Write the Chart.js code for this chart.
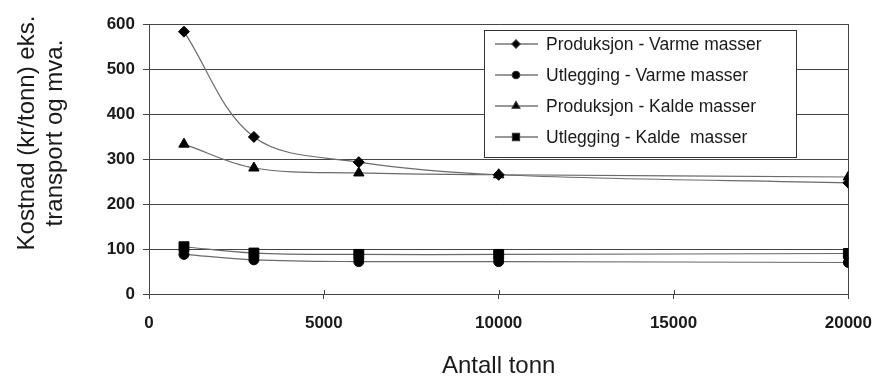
<!DOCTYPE html>
<html>
<head>
<meta charset="utf-8">
<script src="https://cdn.jsdelivr.net/npm/chart.js@4/dist/chart.umd.min.js"></script>
<style>
    html, body { margin: 0; padding: 0; background: #fff; }
    #wrap { width: 886px; height: 378px; }
</style>
</head>
<body>
<div id="wrap"><canvas id="myChart" width="886" height="378"></canvas></div>
<script>
(function(){
    'use strict';

    // tonnage on the x axis
    const tonn = [1000, 3000, 6000, 10000, 20000];
    // cost per tonne for each series
    const prodVarme = [583, 349, 293, 265, 247];
    const utlVarme = [88, 76, 72, 72, 70];
    const prodKalde = [333, 280, 269, 265, 260];
    const utlKalde = [105, 91, 88, 88, 90];

    const seriesNames = ['Produksjon - Varme masser', 'Utlegging - Varme masser', 'Produksjon - Kalde masser', 'Utlegging - Kalde  masser'];
    const seriesValues = [prodVarme, utlVarme, prodKalde, utlKalde];
    const markers = ['rectRot', 'circle', 'triangle', 'rect'];
    const markerSize = [5.5, 5, 6, 7];

    const yTitle = ['Kostnad (kr/tonn) eks.', 'transport og mva.'];
    const xTitle = 'Antall tonn';

    const FONT = "'Liberation Sans', Arial, sans-serif";
    const INK = '#1a1a1a';
    const GRID = '#444';

    const toPoints = values => values.map((v, i) => ({x: tonn[i], y: v}));

    const datasets = seriesValues.map((values, i) => ({
        label: seriesNames[i],
        data: toPoints(values),
        borderColor: '#6a6a6a',
        borderWidth: 1.2,
        backgroundColor: '#000',
        pointStyle: markers[i],
        pointRadius: markerSize[i],
        pointBorderColor: '#000',
        pointBackgroundColor: '#000',
        pointBorderWidth: 1,
        tension: 0.35,
        fill: false
    }));

    // right edge of the plot frame, x tick marks above the axis, rotated y title
    const framePlugin = {
        id: 'frame',
        beforeDatasetsDraw(chart){
            const {ctx, chartArea} = chart;
            const xs = chart.scales.x;
            ctx.save();
            ctx.strokeStyle = GRID;
            ctx.lineWidth = 1;
            ctx.beginPath();
            ctx.moveTo(Math.round(chartArea.right) + 0.5, chartArea.top);
            ctx.lineTo(Math.round(chartArea.right) + 0.5, chartArea.bottom);
            xs.ticks.forEach(t => {
                const px = Math.round(xs.getPixelForValue(t.value)) + 0.5;
                ctx.moveTo(px, chartArea.bottom - 4);
                ctx.lineTo(px, chartArea.bottom);
            });
            ctx.stroke();
            ctx.restore();
        },
        afterDraw(chart){
            const {ctx} = chart;
            ctx.save();
            ctx.translate(0, 133);
            ctx.rotate(-Math.PI / 2);
            ctx.fillStyle = INK;
            ctx.font = `24px ${FONT}`;
            ctx.textAlign = 'center';
            ctx.textBaseline = 'middle';
            yTitle.forEach((line, i) => ctx.fillText(line, 0, 27 + i * 28));
            ctx.restore();
        }
    };

    // boxed legend sitting inside the plot area
    const legendBox = {
        id: 'legendBox',
        afterDatasetsDraw(chart){
            const {ctx} = chart;
            const left = 484, top = 30, w = 312, h = 127;
            ctx.save();
            ctx.fillStyle = '#fff';
            ctx.fillRect(left, top, w, h);
            ctx.strokeStyle = '#333';
            ctx.lineWidth = 1;
            ctx.strokeRect(left + 0.5, top + 0.5, w, h);
            chart.data.datasets.forEach((ds, i) => {
                const y = 44 + i * 31;
                ctx.strokeStyle = '#333';
                ctx.lineWidth = 1.2;
                ctx.beginPath();
                ctx.moveTo(495, y);
                ctx.lineTo(538, y);
                ctx.stroke();
                ctx.fillStyle = '#000';
                Chart.helpers.drawPoint(ctx, {
                    pointStyle: ds.pointStyle,
                    radius: ds.pointStyle === 'rect' ? 5 : ds.pointRadius * 0.75,
                    rotation: 0,
                    borderWidth: 1
                }, 516, y);
                ctx.fillStyle = INK;
                ctx.font = `17.5px ${FONT}`;
                ctx.textAlign = 'left';
                ctx.textBaseline = 'middle';
                ctx.fillText(ds.label, 546, y + 1);
            });
            ctx.restore();
        }
    };

    const ctx = document.getElementById('myChart');
    new Chart(ctx, {
        type: 'line',
        data: { datasets: datasets },
        plugins: [framePlugin, legendBox],
        options: {
            responsive: false,
            animation: false,
            layout: { padding: { top: 24, right: 31, left: 0, bottom: 0 } },
            plugins: {
                legend: { display: false },
                tooltip: { enabled: false }
            },
            scales: {
                x: {
                    type: 'linear',
                    min: 0,
                    max: 20000,
                    afterFit: scale => { scale.height = 84; },
                    border: { color: GRID, width: 1 },
                    grid: { drawOnChartArea: false, drawTicks: true, tickLength: 5, color: GRID },
                    ticks: {
                        stepSize: 5000,
                        padding: 14,
                        color: INK,
                        font: { family: FONT, size: 17, weight: 'bold' },
                        maxRotation: 0,
                        callback: value => String(value)
                    },
                    title: {
                        display: true,
                        text: xTitle,
                        color: INK,
                        font: { family: FONT, size: 24, lineHeight: 1 },
                        padding: { top: 0, bottom: 0 }
                    }
                },
                y: {
                    min: 0,
                    max: 600,
                    afterFit: scale => { scale.width = 149; },
                    border: { color: GRID, width: 1 },
                    grid: { color: GRID, lineWidth: 1, tickLength: 6 },
                    ticks: {
                        stepSize: 100,
                        padding: 8,
                        color: INK,
                        font: { family: FONT, size: 17, weight: 'bold' }
                    }
                }
            }
        }
    });
})();
</script>
</body>
</html>
